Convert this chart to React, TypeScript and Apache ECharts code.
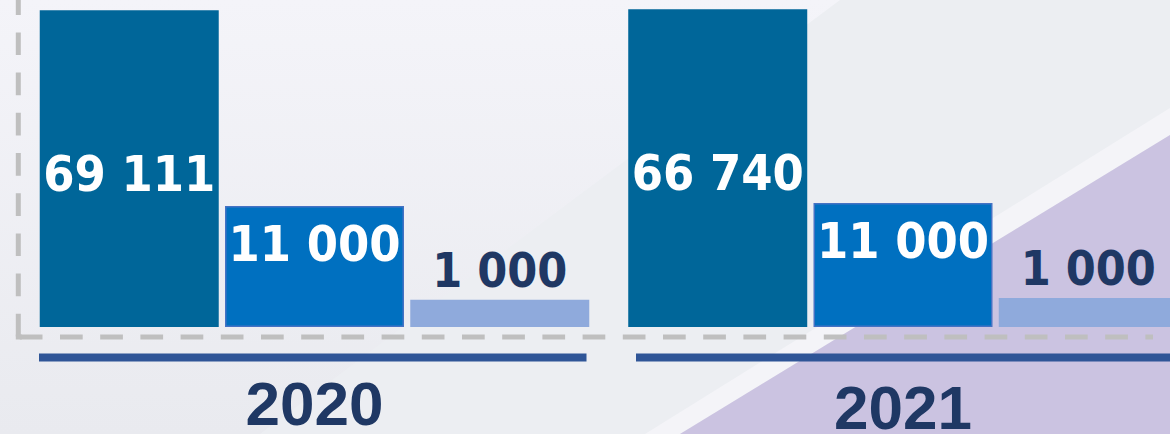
import React, { useEffect, useRef } from "react";
import * as echarts from "echarts";

// ---- data ----
const categories = ["2020", "2021"];
// printed values of the three bars of each year
const firstValues = [69111, 66740];
const secondValues = [11000, 11000];
const thirdValues = [1000, 1000];
// the bars of the infographic are not drawn to scale: drawn heights, in % of the plot height
const firstHeights = [96.9, 97.2];
const secondHeights = [37.0, 37.9];
const thirdHeights = [8.3, 8.9];

const fmt = (v: number) => String(v).replace(/\B(?=(\d{3})+(?!\d))/g, " ");

const labelFont = "'DejaVu Sans Condensed', 'DejaVu Sans', sans-serif";
const yearFont = "'Liberation Sans', Arial, sans-serif";
const navy = "#1F3864";

export default function App() {
  const ref = useRef<HTMLDivElement>(null);

  useEffect(() => {
    if (!ref.current) return;
    const chart = echarts.init(ref.current, undefined, { renderer: "svg" });
    const W = 1170;
    const H = 434;
    const option: any = {
      animation: false,
      graphic: [
        {
          type: "rect",
          z: -10,
          silent: true,
          shape: { x: 0, y: 0, width: W, height: H },
          style: {
            fill: new echarts.graphic.LinearGradient(0, 0, 0, 1, [
              { offset: 0, color: "#f4f4f9" },
              { offset: 1, color: "#e9eaef" },
            ]),
          },
        },
        {
          type: "polygon",
          z: -9,
          silent: true,
          shape: { points: [[840, 0], [1170, 0], [1170, 434], [260, 434]] },
          style: { fill: "#eceef2" },
        },
        {
          type: "polygon",
          z: -8,
          silent: true,
          shape: { points: [[645, 434], [680, 434], [1170, 135], [1170, 108]] },
          style: { fill: "#f4f4f8" },
        },
        {
          type: "polygon",
          z: -7,
          silent: true,
          shape: { points: [[680, 434], [1170, 135], [1170, 434]] },
          style: { fill: "#CBC3E1" },
        },
        // dashed frame
        {
          type: "line",
          z: -5,
          silent: true,
          shape: { x1: 18.3, y1: 336.5, x2: 18.3, y2: -10 },
          style: { stroke: "#BFBFBF", lineWidth: 5, lineDash: [22.7, 17.5] },
        },
        {
          type: "line",
          z: -5,
          silent: true,
          shape: { x1: 19.8, y1: 337, x2: 1153, y2: 337 },
          style: { stroke: "#BFBFBF", lineWidth: 5, lineDash: [22.7, 17.5] },
        },
        {
          type: "rect",
          z: -5,
          silent: true,
          shape: { x: 15.8, y: 334.5, width: 6, height: 5 },
          style: { fill: "#BFBFBF" },
        },
        // year underlines
        {
          type: "rect",
          z: -4,
          silent: true,
          shape: { x: 39, y: 353.5, width: 547.5, height: 8 },
          style: { fill: "#2F5597" },
        },
        {
          type: "rect",
          z: -4,
          silent: true,
          shape: { x: 636, y: 353.5, width: 540, height: 8 },
          style: { fill: "#2F5597" },
        },
      ],
      grid: {
        left: 20.25,
        right: -27.25,
        top: 0,
        bottom: 107,
        containLabel: false,
        outerBoundsMode: "none",
      },
      xAxis: {
        type: "category",
        data: categories,
        axisLine: { show: false },
        axisTick: { show: false },
        splitLine: { show: false },
        axisLabel: {
          interval: 0,
          margin: 51.5,
          color: navy,
          fontSize: 62,
          lineHeight: 50,
          fontWeight: "bold",
          fontFamily: yearFont,
          formatter: (v: string, i: number) => (i === 1 ? `{b|${v}}` : `{a|${v}}`),
          rich: {
            a: {
              color: navy,
              fontSize: 62,
              lineHeight: 50,
              fontWeight: "bold",
              fontFamily: yearFont,
            },
            b: {
              color: navy,
              fontSize: 62,
              lineHeight: 50,
              fontWeight: "bold",
              fontFamily: yearFont,
              padding: [7, 0, 0, 0],
            },
          },
        },
      },
      yAxis: {
        type: "value",
        min: 0,
        max: 100,
        show: false,
        splitLine: { show: false },
      },
      series: [
        {
          type: "bar",
          name: "first",
          data: firstHeights,
          barWidth: 179,
          barGap: "3.5%",
          itemStyle: { color: "#006699" },
          emphasis: { disabled: true },
          label: {
            show: true,
            position: "inside",
            offset: [0, 5],
            formatter: (p: any) => fmt(firstValues[p.dataIndex]),
            color: "#ffffff",
            fontSize: 50,
            fontWeight: "bold",
            fontFamily: labelFont,
          },
        },
        {
          type: "bar",
          name: "second",
          data: secondHeights,
          barWidth: 179,
          barGap: "3.5%",
          itemStyle: { color: "#0070C0", borderColor: "#4472C4", borderWidth: 1.5 },
          emphasis: { disabled: true },
          label: {
            show: true,
            position: "insideTop",
            distance: 13,
            formatter: (p: any) => fmt(secondValues[p.dataIndex]),
            color: "#ffffff",
            fontSize: 50,
            fontWeight: "bold",
            fontFamily: labelFont,
          },
        },
        {
          type: "bar",
          name: "third",
          data: thirdHeights,
          barWidth: 179,
          barGap: "3.5%",
          itemStyle: { color: "#8FAADC" },
          emphasis: { disabled: true },
          label: {
            show: true,
            position: "top",
            distance: 6,
            formatter: (p: any) => fmt(thirdValues[p.dataIndex]),
            color: navy,
            fontSize: 48,
            fontWeight: "bold",
            fontFamily: labelFont,
          },
        },
      ],
    };
    chart.setOption(option);
    return () => {
      chart.dispose();
    };
  }, []);

  return (
    <div
      ref={ref}
      style={{ position: "absolute", left: 0, top: 0, width: 1170, height: 434 }}
    />
  );
}
